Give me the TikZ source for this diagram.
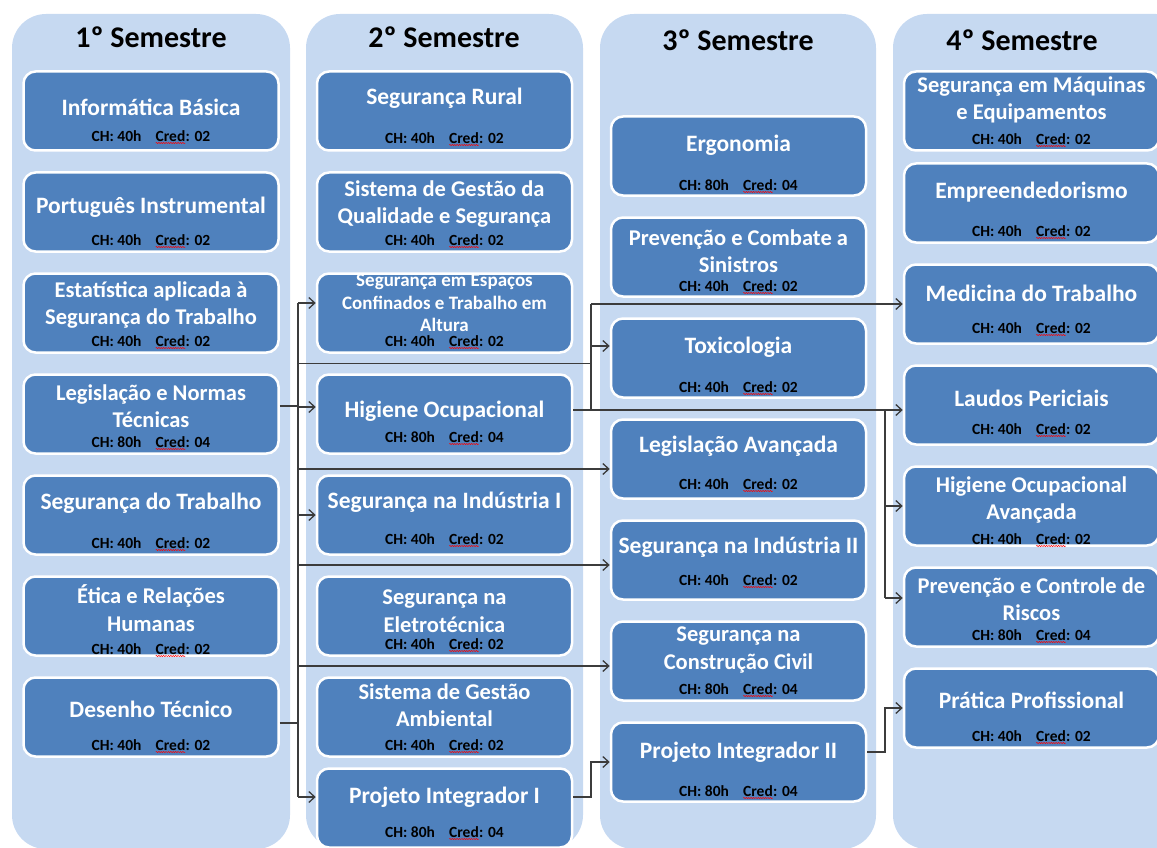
\documentclass[tikz,border=0pt]{standalone}
\usepackage{fontspec}
\setmainfont{Carlito}
\usetikzlibrary{arrows.meta, positioning, calc, decorations.pathmorphing}

\definecolor{colBg}{RGB}{198,217,241}
\definecolor{boxBlue}{RGB}{79,129,189}
\definecolor{lineGray}{RGB}{60,60,60}

\tikzstyle{semCol} = [fill=colBg, rounded corners=34pt]
\tikzstyle{semTitle} = [font=\fontsize{30}{32}\selectfont\bfseries, text=black]
\tikzstyle{discBox} = [rectangle, minimum width=255pt, minimum height=79pt, rounded corners=12pt, draw=white, line width=2.5pt, fill=boxBlue]
\tikzstyle{titleTxt} = [font=\fontsize{23.5}{28}\selectfont\bfseries, text=white, align=center, inner sep=0pt]
\tikzstyle{twoLine} = [font=\fontsize{22.5}{27.5}\selectfont\bfseries]
\tikzstyle{smallTxt} = [font=\fontsize{19}{22.5}\selectfont\bfseries]
\tikzstyle{chTxt} = [font=\fontsize{15.5}{18}\selectfont\bfseries, text=black, inner sep=0pt]
\tikzstyle{wavy} = [red, line width=0.5pt, decorate, decoration={snake, amplitude=0.6pt, segment length=2.4pt}]
\tikzstyle{lineG} = [draw=lineGray, line width=1.3pt]
\tikzstyle{arrowG} = [lineG, -{Straight Barb[length=6pt, width=11pt]}]

% Cred with the red wavy underline
\newcommand{\credW}{\tikz[baseline=(cr.base)]{\node[inner sep=0pt, outer sep=0pt] (cr) {Cred};\draw[wavy] ([yshift=-2pt]cr.base west) -- ([yshift=-2pt]cr.base east);}}
% title and CH line of one course box
\newcommand{\discTxt}[7][]{%
  \node (#2T) [titleTxt, #1] at ($(#2.center)+(0,#4)$) {#3};
  \node (#2C) [chTxt] at ($(#2.center)+(0,#5)$) {CH: #6h\hspace{0.9em}\credW: #7};
}

\begin{document}
\begin{tikzpicture}[x=1pt, y=-1pt, node distance=101pt]
    \useasboundingbox (0,0) rectangle (1157,848);
    \clip (0,0) rectangle (1157,848);

    \fill[semCol] (12,14) rectangle (290,849);
    \fill[semCol] (306,14) rectangle (583,849);
    \fill[semCol] (600,14) rectangle (876,849);
    \fill[semCol] (893,14) rectangle (1190,849);

    \node (s1) [semTitle] at (151,37) {1º Semestre};
    \node (s2) [semTitle] at (444,37) {2º Semestre};
    \node (s3) [semTitle] at (738,40) {3º Semestre};
    \node (s4) [semTitle] at (1022,40) {4º Semestre};

    % 1st semester
    \node (inf) [discBox] at (151,111) {};
    \node (por) [discBox, below of=inf] {};
    \node (est) [discBox, below of=por] {};
    \node (leg) [discBox, below of=est] {};
    \node (seg) [discBox, below of=leg] {};
    \node (eti) [discBox, below of=seg] {};
    \node (des) [discBox, below of=eti] {};

    % 2nd semester
    \node (rur) [discBox] at (444.5,111) {};
    \node (sgq) [discBox, below of=rur] {};
    \node (esp) [discBox, below of=sgq] {};
    \node (hig) [discBox, below of=esp] {};
    \node (si1) [discBox, below of=hig] {};
    \node (ele) [discBox, below of=si1] {};
    \node (sga) [discBox, below of=ele] {};
    \node (pi1) [discBox, below of=sga, node distance=91pt] {};

    % 3rd semester
    \node (erg) [discBox] at (738.5,156) {};
    \node (pcs) [discBox, below of=erg] {};
    \node (tox) [discBox, below of=pcs] {};
    \node (lav) [discBox, below of=tox] {};
    \node (si2) [discBox, below of=lav] {};
    \node (ccv) [discBox, below of=si2] {};
    \node (pi2) [discBox, below of=ccv] {};

    % 4th semester
    \node (maq) [discBox] at (1031.5,111) {};
    \node (emp) [discBox, below of=maq, node distance=92pt] {};
    \node (med) [discBox, below of=emp] {};
    \node (lau) [discBox, below of=med] {};
    \node (hoa) [discBox, below of=lau] {};
    \node (pcr) [discBox, below of=hoa] {};
    \node (pra) [discBox, below of=pcr] {};

    \discTxt{inf}{Informática Básica}{-4}{26}{40}{02}
    \discTxt{por}{Português Instrumental}{-5}{29}{40}{02}
    \discTxt[twoLine]{est}{Estatística aplicada à\\Segurança do Trabalho}{-8}{29}{40}{02}
    \discTxt[twoLine]{leg}{Legislação e Normas\\Técnicas}{-8}{29}{80}{04}
    \discTxt{seg}{Segurança do Trabalho}{-12}{29}{40}{02}
    \discTxt[twoLine]{eti}{Ética e Relações\\Humanas}{-8}{34}{40}{02}
    \discTxt{des}{Desenho Técnico}{-8}{29}{40}{02}

    \discTxt{rur}{Segurança Rural}{-13}{28}{40}{02}
    \discTxt[twoLine]{sgq}{Sistema de Gestão da\\Qualidade e Segurança}{-8}{29}{40}{02}
    \discTxt[smallTxt]{esp}{Segurança em Espaços\\Confinados e Trabalho em\\Altura}{-10}{29}{40}{02}
    \discTxt{hig}{Higiene Ocupacional}{-3}{24}{80}{04}
    \discTxt{si1}{Segurança na Indústria I}{-13}{25}{40}{02}
    \discTxt[twoLine]{ele}{Segurança na\\Eletrotécnica}{-5}{29}{40}{02}
    \discTxt[twoLine]{sga}{Sistema de Gestão\\Ambiental}{-12}{29}{40}{02}
    \discTxt{pi1}{Projeto Integrador I}{-11}{25}{80}{04}

    \discTxt{erg}{Ergonomia}{-11}{30}{80}{04}
    \discTxt[twoLine]{pcs}{Prevenção e Combate a\\Sinistros}{-6}{30}{40}{02}
    \discTxt{tox}{Toxicologia}{-11}{30}{40}{02}
    \discTxt{lav}{Legislação Avançada}{-13}{26}{40}{02}
    \discTxt{si2}{Segurança na Indústria II}{-13}{21}{40}{02}
    \discTxt[twoLine]{ccv}{Segurança na\\Construção Civil}{-11}{29}{80}{04}
    \discTxt{pi2}{Projeto Integrador II}{-10}{30}{80}{04}

    \discTxt[twoLine]{maq}{Segurança em Máquinas\\e Equipamentos}{-11}{29}{40}{02}
    \discTxt{emp}{Empreendedorismo}{-11}{29}{40}{02}
    \discTxt{med}{Medicina do Trabalho}{-11}{25}{40}{02}
    \discTxt{lau}{Laudos Periciais}{-7}{25}{40}{02}
    \discTxt[twoLine]{hoa}{Higiene Ocupacional\\Avançada}{-6}{34}{40}{02}
    \discTxt[twoLine]{pcr}{Prevenção e Controle de\\Riscos}{-8}{29}{80}{04}
    \discTxt{pra}{Prática Profissional}{-8}{29}{40}{02}

    % connector points
    \coordinate (tr) at (298,0);
    \coordinate (jn) at (591,0);
    \coordinate (jr) at (885,0);
    \coordinate (legOut) at ([yshift=8pt]leg.east);
    \coordinate (desOut) at ([yshift=-6pt]des.east);
    \coordinate (espIn) at ([yshift=10pt]esp.west);
    \coordinate (higIn) at ([yshift=7pt]hig.west);
    \coordinate (pi1In) at ([yshift=11pt]pi1.west);
    \coordinate (pi1Out) at ([yshift=11pt]pi1.east);
    \coordinate (gapA) at ($(esp.south)!.5!(hig.north)$);
    \coordinate (lavIn) at ([yshift=-10pt]lav.west);
    \coordinate (si2In) at ([yshift=-5pt]si2.west);
    \coordinate (ccvIn) at ([yshift=-5pt]ccv.west);
    \coordinate (higOut) at ([yshift=4pt]hig.east);
    \coordinate (toxIn) at ([yshift=12pt]tox.west);
    \coordinate (pcrIn) at ([yshift=9pt]pcr.west);
    \coordinate (pi2Out) at ([yshift=10pt]pi2.east);

    % 1st -> 2nd / 3rd semester
    \draw [lineG] (legOut) -- (legOut -| tr);
    \draw [lineG] (desOut) -- (desOut -| tr);
    \draw [lineG] (espIn -| tr) -- (pi1In -| tr);
    \draw [arrowG] (espIn -| tr) -- (espIn);
    \draw [arrowG] (higIn -| tr) -- (higIn);
    \draw [arrowG] (si1.west -| tr) -- (si1.west);
    \draw [arrowG] (pi1In -| tr) -- (pi1In);
    \draw [lineG] (gapA -| tr) -- (gapA -| jn);
    \draw [arrowG] (lavIn -| tr) -- (lavIn);
    \draw [arrowG] (si2In -| tr) -- (si2In);
    \draw [arrowG] (ccvIn -| tr) -- (ccvIn);

    % 2nd -> 3rd / 4th semester
    \draw [arrowG] (higOut) -- (higOut -| lau.west);
    \draw [lineG] (higOut -| jn) -- (med.west -| jn);
    \draw [arrowG] (med.west -| jn) -- (med.west);
    \draw [arrowG] (toxIn -| jn) -- (toxIn);
    \draw [arrowG] (pi1Out) -- (pi1Out -| jn) |- (pi2.west);

    % 3rd -> 4th semester
    \draw [lineG] (higOut -| jr) -- (pcrIn -| jr);
    \draw [arrowG] (hoa.west -| jr) -- (hoa.west);
    \draw [arrowG] (pcrIn -| jr) -- (pcrIn);
    \draw [arrowG] (pi2Out) -- (pi2Out -| jr) |- (pra.west);
\end{tikzpicture}
\end{document}
